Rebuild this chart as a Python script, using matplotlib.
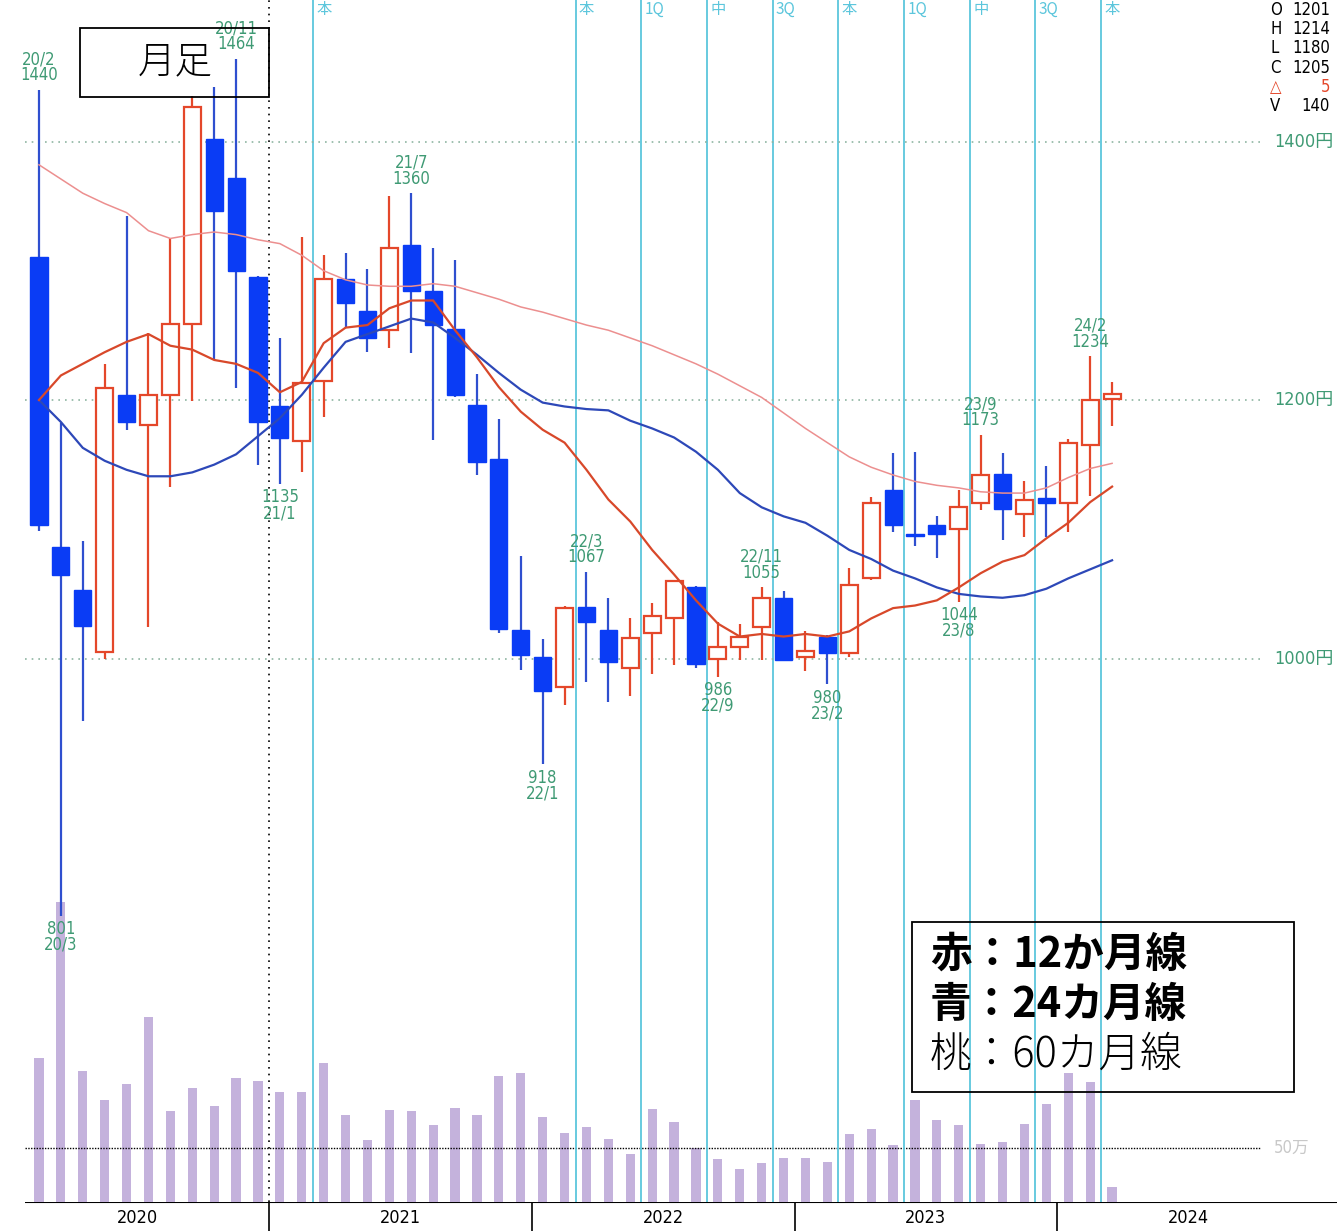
import matplotlib.pyplot as plt
import numpy as np
import pandas as pd
from matplotlib import patches, font_manager
from matplotlib.transforms import blended_transform_factory

# monthly candles, Feb 2020 .. Mar 2024
months = pd.period_range("2020-02", periods=50, freq="M")
opens = [1311, 1086, 1053, 1005, 1204, 1181, 1204, 1259, 1402, 1372, 1295,
         1195, 1168, 1215, 1294, 1269, 1254, 1320, 1284, 1255, 1196, 1154, 1022,
         1001, 978, 1040, 1022, 993, 1020, 1031, 1055, 1000, 1009, 1024, 1047,
         1001, 1017, 1004, 1062, 1130, 1096, 1103, 1100, 1120, 1143, 1112, 1124,
         1120, 1165, 1201]
highs = [1440, 1182, 1091, 1228, 1342, 1252, 1325, 1435, 1442, 1464, 1296,
         1248, 1326, 1312, 1314, 1301, 1358, 1360, 1318, 1308, 1220, 1185, 1079,
         1015, 1041, 1067, 1047, 1031, 1043, 1061, 1056, 1028, 1027, 1055, 1052,
         1021, 1018, 1070, 1125, 1159, 1160, 1110, 1130, 1173, 1159, 1137, 1149,
         1170, 1234, 1214]
lows = [1099, 801, 952, 1000, 1177, 1024, 1133, 1199, 1232, 1209, 1150,
        1135, 1144, 1187, 1256, 1237, 1240, 1236, 1169, 1202, 1142, 1020, 991,
        918, 964, 982, 966, 971, 988, 995, 993, 986, 999, 999, 998,
        990, 980, 1001, 1061, 1098, 1087, 1078, 1044, 1115, 1092, 1094, 1094,
        1098, 1126, 1180]
closes = [1103, 1065, 1025, 1209, 1183, 1204, 1259, 1427, 1346, 1300, 1183,
          1171, 1213, 1294, 1275, 1248, 1318, 1284, 1258, 1204, 1152, 1023, 1003,
          975, 1039, 1028, 997, 1016, 1033, 1060, 996, 1009, 1017, 1047, 999,
          1006, 1004, 1057, 1120, 1103, 1095, 1096, 1117, 1142, 1116, 1123, 1120,
          1167, 1200, 1205]
# volume in 万株
volume = [133, 278, 121, 94, 109, 171, 84, 106, 89, 115, 112,
          102, 102, 129, 81, 57, 85, 84, 71, 87, 81, 117, 119,
          79, 64, 69, 58, 44, 86, 74, 50, 40, 31, 36, 41,
          41, 37, 63, 68, 53, 94, 76, 71, 54, 56, 72, 91,
          119, 111, 14]
# moving averages
ma12 = [1200, 1219, 1228, 1237, 1245, 1251, 1242, 1239, 1231, 1228, 1221,
        1206, 1214, 1244, 1256, 1258, 1271, 1277, 1277, 1254, 1233, 1210, 1191,
        1177, 1167, 1146, 1123, 1106, 1084, 1065, 1045, 1027, 1017, 1019, 1017,
        1019, 1017, 1021, 1031, 1039, 1041, 1045, 1055, 1066, 1075, 1080, 1093,
        1105, 1121, 1133]
ma24 = [1200, 1183, 1163, 1153, 1146, 1141, 1141, 1144, 1150, 1158, 1172,
        1186, 1204, 1225, 1245, 1251, 1257, 1263, 1260, 1248, 1235, 1221, 1208,
        1198, 1195, 1193, 1192, 1184, 1178, 1171, 1160, 1146, 1128, 1117, 1110,
        1105, 1095, 1084, 1077, 1068, 1062, 1055, 1050, 1048, 1047, 1049, 1054,
        1062, 1069, 1076]
ma60 = [1382, 1371, 1360, 1352, 1345, 1331, 1325, 1328, 1330, 1328, 1324,
        1321, 1312, 1300, 1293, 1289, 1288, 1288, 1290, 1288, 1283, 1278, 1272,
        1268, 1263, 1258, 1254, 1248, 1242, 1235, 1228, 1220, 1211, 1202, 1190,
        1178, 1167, 1156, 1148, 1142, 1137, 1134, 1132, 1129, 1128, 1128, 1132,
        1140, 1147, 1151]

price_levels = [1400, 1200, 1000]
years = [2020, 2021, 2022, 2023, 2024]
# settlement events: line drawn after the given month
events = [("2021-02", "本"), ("2022-02", "本"), ("2022-05", "1Q"), ("2022-08", "中"),
          ("2022-11", "3Q"), ("2023-02", "本"), ("2023-05", "1Q"), ("2023-08", "中"),
          ("2023-11", "3Q"), ("2024-02", "本")]
high_marks = ["2020-02", "2020-11", "2021-07", "2022-03", "2022-11", "2023-09", "2024-02"]
low_marks = ["2020-03", "2021-01", "2022-01", "2022-09", "2023-02", "2023-08"]

RED = "#e4472a"
BLUE = "#0a3cf5"
BLUE_W = "#2f4fcf"
GREEN = "#3f9a74"
CYAN = "#5cc6dc"
CJK = ["Noto Sans CJK JP", "DejaVu Sans"]

# narrow digits like the original terminal font, if one is around
installed = {f.name for f in font_manager.fontManager.ttflist}
if "Liberation Sans Narrow" in installed:
    NARROW = dict(family=["Liberation Sans Narrow", "Noto Sans CJK JP"])
else:
    NARROW = dict(family=["DejaVu Sans", "Noto Sans CJK JP"], fontstretch="condensed")

W, H = 1337, 1231
fig = plt.figure(figsize=(W / 100, H / 100), dpi=100)
bot = 29 / H
ax_v = fig.add_axes([0, bot, 1, 1 - bot])
ax_p = fig.add_axes([0, bot, 1, 1 - bot], sharex=ax_v)
ax_y = fig.add_axes([0, 0, 1, bot], sharex=ax_v)
ax_p.patch.set_visible(False)
for a in (ax_v, ax_p, ax_y):
    a.axis("off")

x = np.arange(len(months))
idx = {str(m): i for i, m in enumerate(months)}
o, h, l, c = (np.array(v, dtype=float) for v in (opens, highs, lows, closes))

ax_v.set_xlim(-1.78, 59.27)
ax_p.set_ylim(579.5, 1509.5)
ax_v.set_ylim(0, 1113)
ax_y.set_ylim(0, 1)

# volume
ax_v.bar(x, volume, width=0.42, color="#c4b2dc", zorder=1)
ax_v.hlines(50, -0.64, 55.75, colors="black", linestyles=(0, (1, 1)), lw=1)
ax_v.text(56.4, 50, "50万", color="#c8c8c8", fontsize=12, va="center", **NARROW)

# guide lines
ax_p.hlines(price_levels, -0.64, 56.0, colors="#8fb5a2", linestyles=(0, (1, 3)), lw=1.2)
for lv in price_levels:
    ax_p.text(56.4, lv, f"{lv}円", color=GREEN, fontsize=13, va="center", **NARROW)
ax_p.axvline(10.5, color="black", ls=(0, (1, 3)), lw=1.2)

tr = blended_transform_factory(ax_p.transData, ax_p.transAxes)
for m, lab in events:
    ex = idx[m] + 0.5
    ax_p.axvline(ex, color=CYAN, lw=1.3, zorder=1)
    ax_p.text(ex + 0.15, 0.999, lab, color=CYAN, fontsize=11, va="top", ha="left",
              transform=tr, family=CJK)

# candles
up = c >= o
dn = ~up
ax_p.vlines(x[up], l[up], h[up], color=RED, lw=1.6, zorder=2)
ax_p.vlines(x[dn], l[dn], h[dn], color=BLUE_W, lw=1.6, zorder=2)
ax_p.bar(x[up], np.maximum(c - o, 1)[up], bottom=o[up], width=0.78,
         facecolor="white", edgecolor=RED, lw=1.6, zorder=3)
ax_p.bar(x[dn], np.maximum(o - c, 1)[dn], bottom=c[dn], width=0.78,
         color=BLUE, edgecolor=BLUE, lw=1, zorder=3)

# moving averages
ax_p.plot(x, ma60, color="#ec8f8f", lw=1.1, zorder=4)
ax_p.plot(x, ma24, color="#2d48b8", lw=1.6, zorder=4)
ax_p.plot(x, ma12, color="#d8482a", lw=1.6, zorder=4)

# high / low marks
for m in high_marks:
    i = idx[m]
    p = months[i]
    ax_p.annotate(f"{p.year % 100}/{p.month}\n{highs[i]}", (x[i], h[i]), xytext=(0, 4),
                  textcoords="offset points", ha="center", va="bottom", fontsize=12,
                  color=GREEN, linespacing=0.85, zorder=6, **NARROW)
for m in low_marks:
    i = idx[m]
    p = months[i]
    ax_p.annotate(f"{lows[i]}\n{p.year % 100}/{p.month}", (x[i], l[i]), xytext=(0, -3),
                  textcoords="offset points", ha="center", va="top", fontsize=12,
                  color=GREEN, linespacing=0.85, zorder=6, **NARROW)

# year strip
ax_y.hlines(1, -0.64, 59.27, colors="black", lw=1.5)
for k, yr in enumerate(years):
    ax_y.text(4.5 + 12 * k, 0.45, str(yr), ha="center", va="center", fontsize=13, **NARROW)
    if k:
        ax_y.vlines(4.5 + 12 * k - 6, 0, 1, colors="black", lw=1.2)

# OHLC readout
info = [("O", f"{opens[-1]}", "black"), ("H", f"{highs[-1]}", "black"),
        ("L", f"{lows[-1]}", "black"), ("C", f"{closes[-1]}", "black"),
        ("△", f"{closes[-1] - closes[-2]}", RED), ("V", f"{volume[-1] * 10}", "black")]
for k, (key, val, col) in enumerate(info):
    yy = 1 - (10 + 19.2 * k) / H
    fig.text(1270 / W, yy, key, color=col, fontsize=12, va="center", ha="left", **NARROW)
    fig.text(1330 / W, yy, val, color=col, fontsize=12, va="center", ha="right", **NARROW)

# title box
fig.add_artist(patches.Rectangle((80 / W, 1 - 97 / H), 189 / W, 69 / H, transform=fig.transFigure,
                                 fill=False, ec="black", lw=1.3))
fig.text(175 / W, 1 - 62 / H, "月足", fontsize=27, fontweight="light", ha="center",
         va="center", family=CJK)

# legend box
fig.add_artist(patches.Rectangle((912 / W, 1 - 1092 / H), 382 / W, 170 / H, transform=fig.transFigure,
                                 fill=False, ec="black", lw=1.3))
legend_lines = [("赤：12か月線", "bold"), ("青：24カ月線", "bold"), ("桃：60カ月線", "light")]
for k, (txt, wt) in enumerate(legend_lines):
    fig.text(930 / W, 1 - (955 + 50 * k) / H, txt, fontsize=30, fontweight=wt,
             ha="left", va="center", family=CJK)

fig.savefig("out.png", dpi=100)
